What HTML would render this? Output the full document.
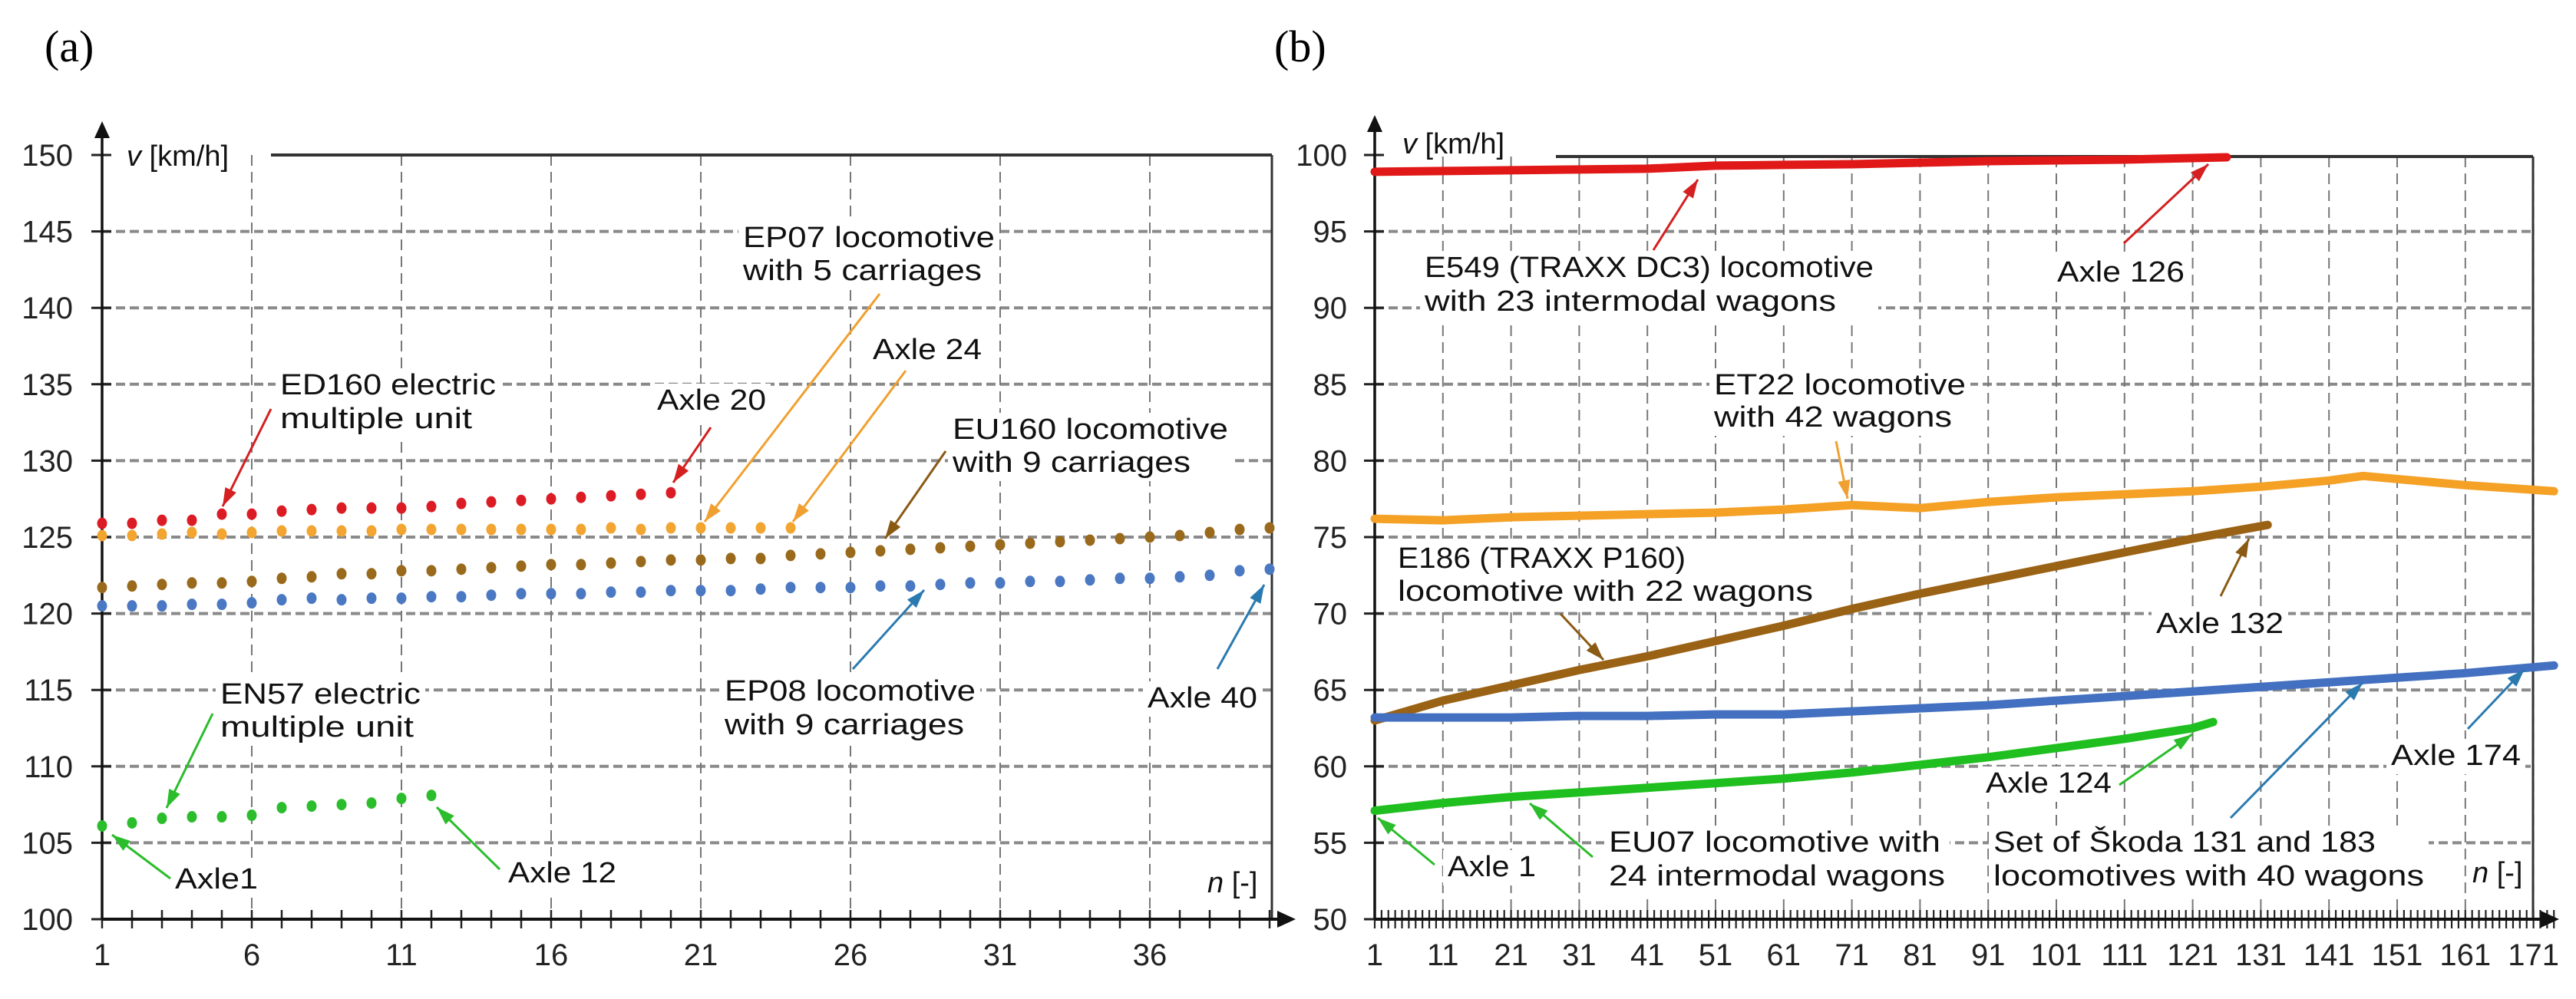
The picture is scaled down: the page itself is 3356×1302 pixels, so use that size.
<!DOCTYPE html>
<html><head><meta charset="utf-8"><title>Axle speed charts</title>
<style>
html,body{margin:0;padding:0;background:#fff;}
svg{display:block;font-family:"Liberation Sans",sans-serif;}
.tick{font-size:40px;fill:#222;}
.ann{font-size:38px;fill:#111;}
</style></head>
<body>
<svg id="fig" width="3356" height="1302" viewBox="0 0 3356 1302" xmlns="http://www.w3.org/2000/svg">
<defs>
<marker id="ah-red" markerWidth="10" markerHeight="10" refX="8" refY="5" orient="auto" markerUnits="userSpaceOnUse" viewBox="0 0 10 10"><path d="M0,0 L10,5 L0,10 z" fill="#d42020"/></marker>
</defs>
<text x="58" y="80" font-family="Liberation Serif,serif" font-size="58">(a)</text>
<text x="1660" y="80" font-family="Liberation Serif,serif" font-size="58">(b)</text>
<g id="pa"></g>
<g id="pb"></g>
</svg>
<script>
// ---------- Panel (a) data ----------
const aYTicks = [100,105,110,115,120,125,130,135,140,145,150];
const aXTicks = [1,6,11,16,21,26,31,36];
const aRed = [125.9,125.9,126.1,126.1,126.5,126.5,126.7,126.8,126.9,126.9,126.9,127,127.2,127.3,127.4,127.5,127.6,127.7,127.8,127.9];
const aOrange = [125.1,125.1,125.2,125.3,125.2,125.3,125.4,125.4,125.4,125.4,125.5,125.5,125.5,125.5,125.5,125.5,125.5,125.6,125.5,125.6,125.6,125.6,125.6,125.6];
const aBrown = [121.7,121.8,121.9,122,122,122.1,122.3,122.4,122.6,122.6,122.8,122.8,122.9,123,123.1,123.2,123.2,123.3,123.4,123.5,123.5,123.6,123.6,123.8,123.9,124,124.1,124.2,124.3,124.4,124.5,124.6,124.7,124.8,124.9,125,125.1,125.3,125.5,125.6];
const aBlue = [120.5,120.5,120.5,120.6,120.6,120.7,120.9,121,120.9,121,121,121.1,121.1,121.2,121.3,121.3,121.3,121.4,121.4,121.5,121.5,121.5,121.6,121.7,121.7,121.7,121.8,121.8,121.9,122,122,122.1,122.1,122.2,122.3,122.3,122.4,122.5,122.8,122.9];
const aGreen = [106.1,106.3,106.6,106.7,106.7,106.8,107.3,107.4,107.5,107.6,107.9,108.1];
// ---------- Panel (b) data ----------
const bYTicks = [50,55,60,65,70,75,80,85,90,95,100];
const bXTicks = [1,11,21,31,41,51,61,71,81,91,101,111,121,131,141,151,161,171];
const bRedN = [1,11,21,31,41,51,61,71,81,91,101,111,121,126];
const bRed = [98.9,98.95,99.0,99.05,99.1,99.3,99.35,99.4,99.5,99.6,99.65,99.7,99.8,99.85];
const bOrangeN = [1,11,21,31,41,51,61,71,81,91,101,111,121,131,141,146,151,161,174];
const bOrange = [76.2,76.1,76.3,76.4,76.5,76.6,76.8,77.1,76.9,77.3,77.6,77.8,78.0,78.3,78.7,79.0,78.8,78.4,78.0];
const bBrownN = [1,11,21,31,41,51,61,71,81,91,101,111,121,132];
const bBrown = [63.0,64.3,65.3,66.3,67.2,68.2,69.2,70.3,71.3,72.2,73.1,74.0,74.9,75.8];
const bBlueN = [1,11,21,31,41,51,61,71,81,91,101,111,121,131,141,151,161,174];
const bBlue = [63.2,63.2,63.2,63.3,63.3,63.4,63.4,63.6,63.8,64.0,64.3,64.6,64.9,65.2,65.5,65.8,66.1,66.6];
const bGreenN = [1,11,21,31,41,51,61,71,81,91,101,111,121,124];
const bGreen = [57.1,57.6,58.0,58.3,58.6,58.9,59.2,59.6,60.1,60.6,61.2,61.8,62.5,62.9];

const NS = "http://www.w3.org/2000/svg";
function mk(parent, tag, attrs, text){
  const e = document.createElementNS(NS, tag);
  for (const k in attrs) e.setAttribute(k, attrs[k]);
  if (text !== undefined) e.textContent = text;
  parent.appendChild(e);
  return e;
}
const Y0 = 1198, PXU = 19.92;
// axis functions
const axY = v => Y0 - (v - 100) * PXU;
const axX = n => 133 + (n - 1) * 39;
const bxY = v => Y0 - (v - 50) * PXU;
const bxX = n => 1791 + (n - 1) * 8.88;

function arrow(g, x1, y1, x2, y2, col, name){
  const ln = mk(g, 'line', {x1:x1, y1:y1, x2:x2, y2:y2, stroke:col, 'stroke-width':3});
  
  
  const a = Math.atan2(y2 - y1, x2 - x1), L = 24, W = 8;
  const bx = x2 - L*Math.cos(a), by = y2 - L*Math.sin(a);
  const p1 = (bx + W*Math.sin(a)) + ',' + (by - W*Math.cos(a));
  const p2 = (bx - W*Math.sin(a)) + ',' + (by + W*Math.cos(a));
  const hd = mk(g, 'polygon', {points: x2+','+y2+' '+p1+' '+p2, fill:col});
  
  
}
function label(g, lines, x, bases, widths, name){
  const rect = mk(g, 'rect', {x:x-6, y:bases[0]-34, width:Math.max(...widths)+12, height:bases[bases.length-1]-bases[0]+46, fill:'#fff'});
  
  
  lines.forEach((t, i) => {
    const tx = mk(g, 'text', {x:x, y:bases[i], class:'ann', textLength:widths[i], lengthAdjust:'spacingAndGlyphs'}, t);
    
    
  });
}

// ================= Panel (a) =================
(function(){
  const g = document.getElementById('pa');
  const L = 133, R = 1657, T = 202;
  // horizontal grid
  aYTicks.forEach(v => {
    if (v > 100 && v < 150) {
      const gl = mk(g, 'line', {x1:L, x2:R, y1:axY(v), y2:axY(v), stroke:'#8a8a8a', 'stroke-width':4, 'stroke-dasharray':'12 6'});
      
      
    }
    const tk = mk(g, 'line', {x1:L-14, x2:L+12, y1:axY(v), y2:axY(v), stroke:'#222', 'stroke-width':3});
    
    
    const tl = mk(g, 'text', {x:95, y:axY(v)+14, class:'tick', 'text-anchor':'end'}, v);
    
    
  });
  // vertical grid and labels
  aXTicks.forEach(n => {
    if (n > 1) {
      const gl = mk(g, 'line', {x1:axX(n), x2:axX(n), y1:T, y2:Y0, stroke:'#777', 'stroke-width':2, 'stroke-dasharray':'14 8'});
      
      
    }
    const tl = mk(g, 'text', {x:axX(n), y:1258, class:'tick', 'text-anchor':'middle'}, n);
    
    
  });
  for (let n = 1; n <= 40; n++) {
    const tk = mk(g, 'line', {x1:axX(n), x2:axX(n), y1:Y0-12, y2:Y0+12, stroke:'#222', 'stroke-width':2.5});
    
    
  }
  // border & axes
  const tb = mk(g, 'line', {x1:353, x2:R, y1:T, y2:T, stroke:'#333', 'stroke-width':4});
  
  
  const rb = mk(g, 'line', {x1:R, x2:R, y1:T, y2:Y0, stroke:'#333', 'stroke-width':3});
  
  
  const ya = mk(g, 'line', {x1:L, x2:L, y1:175, y2:Y0, stroke:'#111', 'stroke-width':3.5});
  
  
  const yh = mk(g, 'polygon', {points:L+',158 '+(L-10)+',180 '+(L+10)+',180', fill:'#111'});
  
  
  const xa = mk(g, 'line', {x1:L, x2:1670, y1:Y0, y2:Y0, stroke:'#111', 'stroke-width':4});
  
  
  const xh = mk(g, 'polygon', {points:'1688,'+Y0+' 1664,'+(Y0-11)+' 1664,'+(Y0+11), fill:'#111'});
  
  
  const yt = mk(g, 'text', {x:165, y:216, class:'ann', 'font-size':40}, '');
  
  
  mk(yt, 'tspan', {'font-style':'italic'}, 'v');
  mk(yt, 'tspan', {}, ' [km/h]');
  const xt = mk(g, 'text', {x:1573, y:1163, class:'ann', 'font-size':40}, '');
  
  
  mk(xt, 'tspan', {'font-style':'italic'}, 'n');
  mk(xt, 'tspan', {}, ' [-]');

  // labels with backgrounds
  label(g, ['ED160 electric','multiple unit'], 365, [514,558], [281,250], 'label-ed160');
  label(g, ['Axle 20'], 856, [534], [142], 'label-axle-20');
  label(g, ['EP07 locomotive','with 5 carriages'], 968, [322,365], [328,311], 'label-ep07');
  label(g, ['Axle 24'], 1137, [468], [142], 'label-axle-24');
  label(g, ['EU160 locomotive','with 9 carriages'], 1241, [572,615], [359,310], 'label-eu160');
  label(g, ['EP08 locomotive','with 9 carriages'], 944, [913,957], [327,312], 'label-ep08');
  label(g, ['Axle 40'], 1495, [922], [143], 'label-axle-40');
  label(g, ['EN57 electric','multiple unit'], 287, [917,960], [261,252], 'label-en57');
  label(g, ['Axle1'], 228, [1158], [108], 'label-axle-1');
  label(g, ['Axle 12'], 662, [1150], [141], 'label-axle-12');

  // series dots
  const series = [[aRed,'#dc1c24','red'],[aOrange,'#f2a531','orange'],[aBrown,'#9a6a1c','brown'],[aBlue,'#4a78c2','blue'],[aGreen,'#2bbd2b','green']];
  series.forEach(([arr,col,nm]) => {
    arr.forEach((v,i) => {
      const c = mk(g, 'ellipse', {cx:axX(i+1), cy:axY(v), rx:6.5, ry:7.5, fill:col});
      
      
    });
  });
  // arrows
  arrow(g, 353,533, 290,660, '#d42020', 'arrow-ed160');
  arrow(g, 926,557, 877,629, '#d42020', 'arrow-axle-20');
  arrow(g, 1146,383, 918,680, '#f0a030', 'arrow-ep07');
  arrow(g, 1180,483, 1033,680, '#f0a030', 'arrow-axle-24');
  arrow(g, 1232,588, 1153,702, '#8a5a14', 'arrow-eu160');
  arrow(g, 1111,872, 1204,769, '#2a7ab0', 'arrow-ep08');
  arrow(g, 1586,872, 1647,762, '#2a7ab0', 'arrow-axle-40');
  arrow(g, 277,930, 217,1053, '#2bbd2b', 'arrow-en57');
  arrow(g, 222,1145, 146,1088, '#2bbd2b', 'arrow-axle-1');
  arrow(g, 651,1133, 569,1052, '#2bbd2b', 'arrow-axle-12');
})();

// ================= Panel (b) =================
(function(){
  const g = document.getElementById('pb');
  const L = 1791, R = 3300, T = 204;
  bYTicks.forEach(v => {
    if (v > 50 && v < 100) {
      const gl = mk(g, 'line', {x1:L, x2:R, y1:bxY(v), y2:bxY(v), stroke:'#8a8a8a', 'stroke-width':4, 'stroke-dasharray':'12 6'});
      
      
    }
    const tk = mk(g, 'line', {x1:L-14, x2:L+12, y1:bxY(v), y2:bxY(v), stroke:'#222', 'stroke-width':3});
    
    
    const tl = mk(g, 'text', {x:1755, y:bxY(v)+14, class:'tick', 'text-anchor':'end'}, v);
    
    
  });
  bXTicks.forEach(n => {
    if (n > 1) {
      const gl = mk(g, 'line', {x1:bxX(n), x2:bxX(n), y1:T, y2:Y0, stroke:'#777', 'stroke-width':2, 'stroke-dasharray':'14 8'});
      
      
    }
    const tl = mk(g, 'text', {x:bxX(n), y:1258, class:'tick', 'font-size':36, 'text-anchor':'middle'}, n);
    
    
  });
  for (let n = 1; n <= 174; n++) {
    const tk = mk(g, 'line', {x1:bxX(n), x2:bxX(n), y1:Y0-12, y2:Y0+12, stroke:'#222', 'stroke-width':2.2});
    
    
  }
  const tb = mk(g, 'line', {x1:2027, x2:R, y1:T, y2:T, stroke:'#333', 'stroke-width':4});
  
  
  const rb = mk(g, 'line', {x1:R, x2:R, y1:T, y2:Y0, stroke:'#333', 'stroke-width':3});
  
  
  const ya = mk(g, 'line', {x1:L, x2:L, y1:170, y2:Y0, stroke:'#111', 'stroke-width':3.5});
  
  
  const yh = mk(g, 'polygon', {points:L+',150 '+(L-10)+',172 '+(L+10)+',172', fill:'#111'});
  
  
  const xa = mk(g, 'line', {x1:L, x2:3315, y1:Y0, y2:Y0, stroke:'#111', 'stroke-width':4});
  
  
  const xh = mk(g, 'polygon', {points:'3334,'+Y0+' 3310,'+(Y0-11)+' 3310,'+(Y0+11), fill:'#111'});
  
  
  const yt = mk(g, 'text', {x:1827, y:200, class:'ann', 'font-size':40}, '');
  
  
  mk(yt, 'tspan', {'font-style':'italic'}, 'v');
  mk(yt, 'tspan', {}, ' [km/h]');
  const xt = mk(g, 'text', {x:3221, y:1150, class:'ann', 'font-size':40}, '');
  
  
  mk(xt, 'tspan', {'font-style':'italic'}, 'n');
  mk(xt, 'tspan', {}, ' [-]');

  label(g, ['E549 (TRAXX DC3) locomotive','with 23 intermodal wagons'], 1856, [361,405], [585,536], 'label-e549');
  label(g, ['Axle 126'], 2680, [367], [166], 'label-axle-126');
  label(g, ['ET22 locomotive','with 42 wagons'], 2233, [514,556], [328,310], 'label-et22');
  label(g, ['E186 (TRAXX P160)','locomotive with 22 wagons'], 1821, [740,783], [375,541], 'label-e186');
  label(g, ['Axle 132'], 2809, [825], [166], 'label-axle-132');
  label(g, ['Axle 124'], 2587, [1033], [164], 'label-axle-124');
  label(g, ['Axle 174'], 3115, [997], [169], 'label-axle-174');
  label(g, ['Set of Škoda 131 and 183','locomotives with 40 wagons'], 2597, [1110,1154], [498,561], 'label-skoda');
  label(g, ['EU07 locomotive with','24 intermodal wagons'], 2096, [1110,1154], [432,438], 'label-eu07');
  label(g, ['Axle 1'], 1886, [1142], [115], 'label-axle-1');

  const series = [[bRedN,bRed,'#e01818','red'],[bOrangeN,bOrange,'#f4a125','orange'],[bBrownN,bBrown,'#9a6214','brown'],[bBlueN,bBlue,'#4370c0','blue'],[bGreenN,bGreen,'#1fbf1f','green']];
  series.forEach(([ns,vs,col,nm]) => {
    const pts = ns.map((n,i) => bxX(n).toFixed(1) + ',' + bxY(vs[i]).toFixed(1)).join(' ');
    const pl = mk(g, 'polyline', {points:pts, fill:'none', stroke:col, 'stroke-width':11, 'stroke-linejoin':'round', 'stroke-linecap':'round'});
    
    
  });
  arrow(g, 2154,326, 2212,234, '#d42020', 'arrow-e549');
  arrow(g, 2767,317, 2877,214, '#d42020', 'arrow-axle-126');
  arrow(g, 2392,575, 2407,650, '#f0a030', 'arrow-et22');
  arrow(g, 2033,800, 2089,860, '#8a5a14', 'arrow-e186');
  arrow(g, 2893,777, 2930,702, '#8a5a14', 'arrow-axle-132');
  arrow(g, 2761,1023, 2856,957, '#2bbd2b', 'arrow-axle-124');
  arrow(g, 3215,950, 3289,872, '#2a7ab0', 'arrow-axle-174');
  arrow(g, 2906,1066, 3078,890, '#2a7ab0', 'arrow-skoda');
  arrow(g, 2075,1117, 1993,1047, '#2bbd2b', 'arrow-eu07');
  arrow(g, 1869,1127, 1795,1066, '#2bbd2b', 'arrow-axle-1');
})();
</script>
</body></html>
